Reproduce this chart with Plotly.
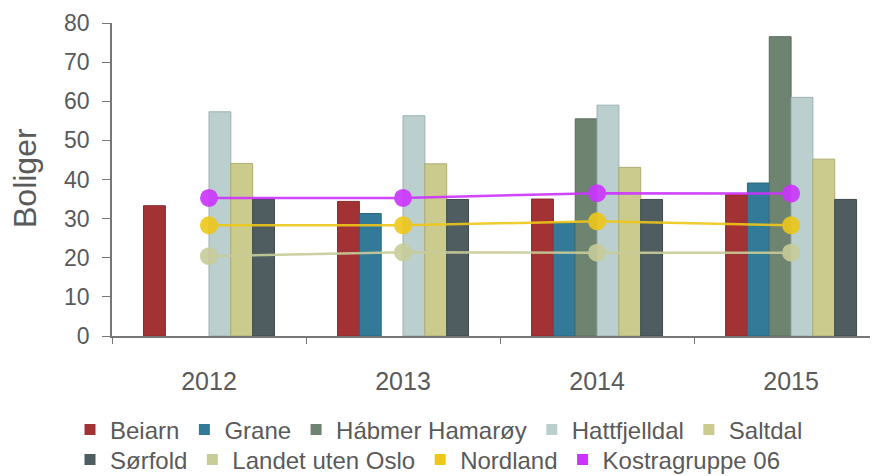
import plotly.graph_objects as go

years = ["2012", "2013", "2014", "2015"]

bar_names = ["Beiarn", "Grane", "Hábmer Hamarøy", "Hattfjelldal", "Saltdal", "Sørfold"]
beiarn = [33.3, 34.4, 35.0, 36.1]
grane = [None, 31.3, 29.0, 39.1]
habmer = [None, None, 55.5, 76.5]
hattfjelldal = [57.3, 56.3, 59.0, 61.0]
saltdal = [44.1, 44.0, 43.1, 45.2]
sorfold = [35.0, 34.9, 34.9, 34.9]

line_names = ["Landet uten Oslo", "Nordland", "Kostragruppe 06"]
landet = [20.4, 21.4, 21.3, 21.3]
nordland = [28.3, 28.3, 29.3, 28.3]
kostra = [35.3, 35.3, 36.5, 36.4]

bar_values = [beiarn, grane, habmer, hattfjelldal, saltdal, sorfold]
line_values = [landet, nordland, kostra]

bar_colors = ["#A33234", "#327A97", "#6E8370", "#BCCFCF", "#CCCB8E", "#4F5C60"]
bar_edges = ["#8A2A2C", "#2A6680", "#5A6C5C", "#9DB0B0", "#AEAD72", "#3F4A4D"]
line_colors = ["#C8CC98", "#EEC71A", "#CC33FF"]

FONT = "Liberation Sans, Arial, sans-serif"
TXT = "#5A5A5A"

fig = go.Figure()

for name, vals, c, e in zip(bar_names, bar_values, bar_colors, bar_edges):
    fig.add_trace(go.Bar(x=years, y=vals, name=name, showlegend=False,
                         marker=dict(color=c, line=dict(color=e, width=1))))

for name, vals, c in zip(line_names, line_values, line_colors):
    fig.add_trace(go.Scatter(x=years, y=vals, name=name, mode="lines+markers",
                             showlegend=False, opacity=0.9,
                             line=dict(color=c, width=2.5),
                             marker=dict(color=c, size=18)))

# legend entries (square swatches), laid out in two rows like the original
all_names = bar_names + line_names
all_colors = bar_colors + line_colors
for i, (name, c) in enumerate(zip(all_names, all_colors)):
    fig.add_trace(go.Scatter(x=[None], y=[None], name=name, mode="markers",
                             legend="legend" if i < 5 else "legend2",
                             marker=dict(color=c, symbol="square", size=11)))

leg_common = dict(orientation="h", xref="container", yref="container",
                  xanchor="left", yanchor="middle",
                  font=dict(size=24, color=TXT, family=FONT), itemwidth=30,
                  bgcolor="rgba(0,0,0,0)", borderwidth=0)

# page body adds an 8px offset; margins compensate for it
fig.update_layout(
    width=878, height=476,
    margin=dict(l=104, r=8, t=15, b=148, autoexpand=False),
    plot_bgcolor="white", paper_bgcolor="white",
    barmode="group", bargap=0.325, bargroupgap=0,
    font=dict(family=FONT, color=TXT),
    showlegend=True,
    legend=dict(x=62 / 878, y=1 - 422 / 476, **leg_common),
    legend2=dict(x=62 / 878, y=1 - 452 / 476, **leg_common),
    xaxis=dict(type="category", range=[-0.5, 3.448], showline=True,
               linecolor="#777777", linewidth=1.5, ticks="outside", ticklen=6,
               tickcolor="#777777", tickson="boundaries", showgrid=False,
               automargin=False,
               tickfont=dict(size=25, color=TXT), ticklabelstandoff=22),
    yaxis=dict(range=[0, 80], tickvals=[0, 10, 20, 30, 40, 50, 60, 70, 80],
               showline=True, linecolor="#777777", linewidth=1.5,
               ticks="outside", ticklen=8, tickcolor="#777777", showgrid=False,
               zeroline=False, automargin=False,
               tickfont=dict(size=23, color=TXT), ticklabelstandoff=8),
    annotations=[dict(text="Boliger", xref="paper", yref="paper",
                      x=(25 - 112) / 766, y=(336 - 178) / 313, showarrow=False,
                      textangle=-90, xanchor="center", yanchor="middle",
                      font=dict(size=32, color=TXT, family=FONT))],
)

fig.write_html("out.html")
